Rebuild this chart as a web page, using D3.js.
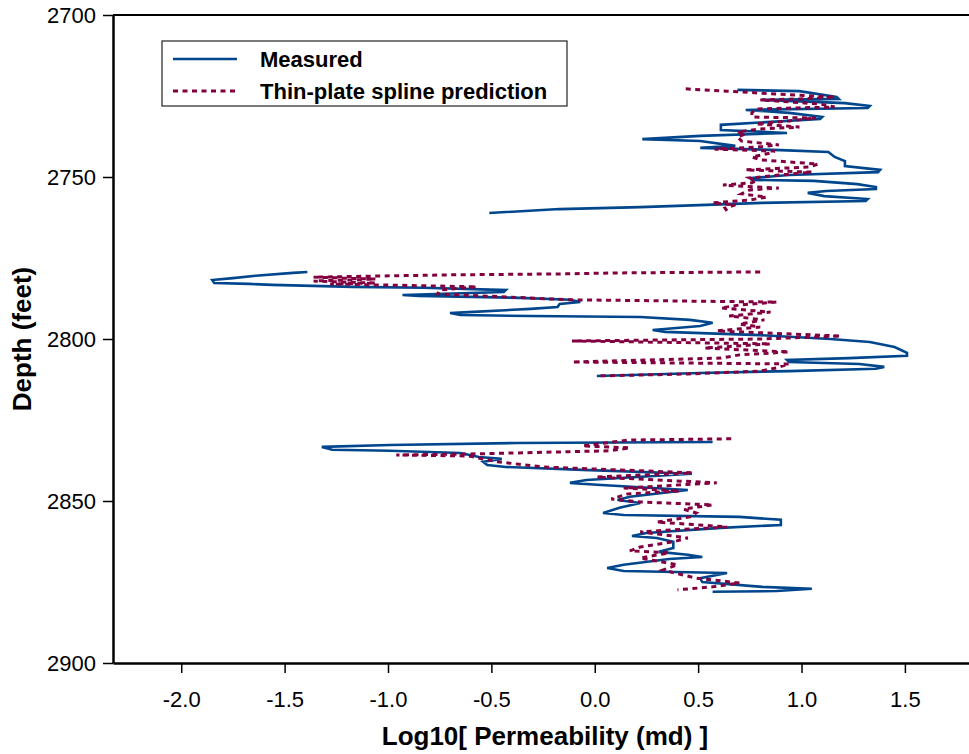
<!DOCTYPE html>
<html>
<head>
<meta charset="utf-8">
<script src="https://cdn.jsdelivr.net/npm/d3@7"></script>
<style>
  html, body { margin: 0; padding: 0; background: #fff; }
  svg { display: block; }
  text { font-family: "Liberation Sans", Arial, sans-serif; }
</style>
</head>
<body>
<svg id="chart" width="969" height="754"></svg>
<script>
// ---------------- data (depth in feet, Log10 permeability in md) ----------------
const xTicks = [-2.0, -1.5, -1.0, -0.5, 0.0, 0.5, 1.0, 1.5];
const xMinorTicks = [-2.25, -1.75, -1.25, -0.75, -0.25, 0.25, 0.75, 1.25, 1.75];
const yTicks = [2700, 2750, 2800, 2850, 2900];
const yMinorTicks = [2725, 2775, 2825, 2875];
const seriesNames = ["Measured", "Thin-plate spline prediction"];

const measuredA = [[2723.1,0.69],[2723.5,0.99],[2725.3,1.17],[2725.9,1.18],[2726.2,0.81],[2727.2,1.21],[2728.1,1.33],[2728.7,1.32],[2729.3,0.73],[2730.2,0.94],[2731.5,1.10],[2732.1,1.09],[2733.9,0.61],[2735.5,0.61],[2736.4,0.93],[2737.3,0.51],[2738.3,0.23],[2738.9,0.51],[2740.4,0.68],[2741.0,0.51],[2741.7,0.90],[2742.3,1.13],[2743.8,1.16],[2745.1,1.21],[2746.6,1.21],[2747.8,1.38],[2748.5,1.37],[2749.4,0.94],[2750.3,0.76],[2750.9,0.76],[2751.2,1.06],[2752.2,1.27],[2753.1,1.36],[2753.7,1.36],[2754.3,1.12],[2754.9,1.03],[2755.9,1.11],[2756.8,1.32],[2757.4,1.31],[2758.0,0.81],[2758.6,0.54],[2759.3,0.22],[2759.9,-0.17],[2761.1,-0.51]];
const measuredB = [[2779.3,-1.39],[2779.6,-1.46],[2780.5,-1.64],[2781.2,-1.75],[2781.8,-1.85],[2782.7,-1.84],[2783.0,-1.67],[2783.3,-1.56],[2783.9,-1.17],[2784.2,-0.83],[2784.9,-0.43],[2785.5,-0.44],[2786.4,-0.93],[2786.7,-0.85],[2787.3,-0.36],[2787.9,-0.12],[2788.6,-0.07],[2789.2,-0.17],[2790.1,-0.18],[2790.7,-0.31],[2791.7,-0.61],[2792.0,-0.70],[2792.6,-0.65],[2792.9,-0.31],[2793.2,0.22],[2794.1,0.46],[2795.0,0.57],[2796.0,0.51],[2797.2,0.28],[2797.8,0.34],[2798.8,0.80],[2800.0,1.14],[2800.9,1.33],[2802.5,1.45],[2804.3,1.51],[2805.2,1.51],[2805.9,1.23],[2806.5,0.93],[2807.1,0.94],[2807.7,1.28],[2808.6,1.40],[2809.2,1.36],[2809.9,0.94],[2810.5,0.51],[2811.4,0.01]];
const measuredC = [[2831.8,0.57],[2832.1,-0.38],[2832.7,-0.99],[2833.3,-1.32],[2834.2,-1.27],[2834.5,-0.99],[2835.2,-0.65],[2836.4,-0.56],[2837.0,-0.45],[2837.9,-0.54],[2838.9,-0.52],[2839.5,-0.43],[2840.4,-0.06],[2841.6,0.47],[2843.5,-0.04],[2844.4,-0.12],[2845.0,0.01],[2846.6,0.45],[2848.7,0.17],[2849.7,0.11],[2850.6,0.22],[2852.1,0.12],[2853.7,0.04],[2854.3,0.14],[2854.9,0.70],[2855.8,0.90],[2857.4,0.90],[2858.3,0.61],[2859.9,0.25],[2860.8,0.18],[2861.4,0.30],[2862.6,0.38],[2864.5,0.38],[2865.7,0.31],[2866.6,0.45],[2867.3,0.52],[2867.9,0.36],[2869.7,0.14],[2870.7,0.06],[2871.6,0.14],[2872.2,0.64],[2873.8,0.51],[2875.0,0.52],[2876.5,0.81],[2877.1,1.05],[2877.8,0.88],[2878.0,0.57]];

const predictedA = [[2722.8,0.44],[2723.5,0.64],[2724.1,0.80],[2725.3,1.16],[2725.9,0.99],[2726.2,0.80],[2727.5,1.09],[2728.4,1.16],[2729.0,0.78],[2730.2,0.76],[2731.5,0.76],[2731.8,1.07],[2732.7,0.94],[2733.6,0.78],[2734.6,0.99],[2735.2,0.80],[2736.1,0.69],[2736.7,0.73],[2737.6,0.69],[2738.9,0.71],[2740.1,0.89],[2740.7,0.80],[2741.4,0.58],[2742.0,0.87],[2742.6,0.85],[2743.8,0.76],[2744.7,0.80],[2746.0,1.08],[2746.9,1.04],[2747.8,0.73],[2748.5,1.05],[2749.4,0.89],[2750.3,0.75],[2751.2,0.78],[2751.8,0.76],[2752.5,0.62],[2753.4,0.89],[2754.0,0.75],[2755.2,0.71],[2756.2,0.83],[2757.1,0.75],[2758.0,0.57],[2758.6,0.68],[2759.6,0.63],[2760.5,0.64]];
const predictedB = [[2779.3,0.80],[2779.6,0.12],[2779.9,-0.16],[2780.2,-0.70],[2780.9,-1.36],[2781.5,-1.06],[2782.1,-1.36],[2782.7,-1.06],[2783.0,-1.28],[2783.9,-0.57],[2784.9,-0.75],[2786.1,-0.76],[2787.9,-0.12],[2788.6,0.88],[2789.5,0.70],[2790.4,0.61],[2791.7,0.85],[2792.9,0.65],[2794.1,0.82],[2795.4,0.70],[2796.3,0.80],[2797.5,0.59],[2799.1,1.19],[2800.0,0.80],[2800.6,-0.11],[2801.5,0.85],[2802.8,0.53],[2804.0,0.94],[2804.9,0.70],[2805.9,0.61],[2807.1,-0.11],[2807.7,0.94],[2808.9,0.88],[2809.9,0.80],[2810.8,0.45],[2811.4,0.01]];
const predictedC = [[2830.8,0.66],[2831.2,0.16],[2833.0,-0.06],[2833.6,0.17],[2834.5,0.07],[2835.5,-0.61],[2835.8,-0.96],[2836.1,-0.61],[2837.9,-0.47],[2839.5,-0.25],[2840.7,0.23],[2841.3,0.47],[2842.6,0.01],[2844.4,0.59],[2846.0,0.14],[2846.9,0.41],[2847.8,0.16],[2849.4,0.08],[2850.3,0.22],[2851.2,0.57],[2852.5,0.43],[2853.7,0.49],[2854.9,0.46],[2856.5,0.30],[2858.0,0.64],[2859.5,0.22],[2861.4,0.45],[2862.6,0.38],[2864.2,0.22],[2865.4,0.17],[2866.0,0.36],[2867.6,0.22],[2869.7,0.40],[2871.3,0.33],[2873.8,0.49],[2875.3,0.70],[2876.5,0.57],[2877.4,0.40]];

const measuredSegments = [measuredA, measuredB, measuredC];
const predictedSegments = [predictedA, predictedB, predictedC];

// ---------------- layout & style ----------------
const blue = "#00468c";
const maroon = "#820040";
const plot = { left: 113, right: 969, top: 15, bottom: 663 };

const svg = d3.select("#chart");

const x = d3.scaleLinear().domain([-2.33, 1.81]).range([plot.left, plot.right]);
const y = d3.scaleLinear().domain([2700, 2900]).range([plot.top, plot.bottom]);

// top frame line
svg.append("line")
  .attr("x1", plot.left).attr("x2", plot.right)
  .attr("y1", plot.top).attr("y2", plot.top)
  .attr("stroke", "#000").attr("stroke-width", 2);

// x axis
const gx = svg.append("g").attr("transform", `translate(0,${plot.bottom})`);
gx.call(d3.axisBottom(x).tickValues(xMinorTicks).tickSize(5).tickSizeOuter(0).tickFormat(""));
gx.call(d3.axisBottom(x).tickValues(xTicks).tickSize(10).tickSizeOuter(0).tickPadding(18)
  .tickFormat(d => d.toFixed(1)));
gx.selectAll(".domain").attr("stroke-width", 2.5);
gx.selectAll(".tick line").attr("stroke-width", 1.5);
gx.selectAll("text").attr("font-size", 22).attr("fill", "#000")
  .style("font-family", '"Liberation Sans", Arial, sans-serif');

// y axis
const gy = svg.append("g").attr("transform", `translate(${plot.left},0)`);
gy.call(d3.axisLeft(y).tickValues(yMinorTicks).tickSize(5).tickSizeOuter(0).tickFormat(""));
gy.call(d3.axisLeft(y).tickValues(yTicks).tickSize(10).tickSizeOuter(0).tickPadding(7)
  .tickFormat(d3.format("d")));
gy.selectAll(".domain").attr("stroke-width", 2.5);
gy.selectAll(".tick line").attr("stroke-width", 1.5);
gy.selectAll("text").attr("font-size", 22).attr("fill", "#000")
  .style("font-family", '"Liberation Sans", Arial, sans-serif');

// axis titles
svg.append("text")
  .attr("x", (plot.left + plot.right) / 2 + 4).attr("y", 745)
  .attr("text-anchor", "middle")
  .attr("font-size", 26).attr("font-weight", "bold")
  .text("Log10[ Permeability (md) ]");

svg.append("text")
  .attr("transform", `translate(31,${(plot.top + plot.bottom) / 2}) rotate(-90)`)
  .attr("text-anchor", "middle")
  .attr("font-size", 26).attr("font-weight", "bold")
  .text("Depth (feet)");

// lines
const line = d3.line().x(d => x(d[1])).y(d => y(d[0]));

svg.append("g").selectAll("path")
  .data(measuredSegments).join("path")
  .attr("d", line)
  .attr("fill", "none").attr("stroke", blue)
  .attr("stroke-width", 2.6).attr("stroke-linejoin", "miter");

svg.append("g").selectAll("path")
  .data(predictedSegments).join("path")
  .attr("d", line)
  .attr("fill", "none").attr("stroke", maroon)
  .attr("stroke-width", 3).attr("stroke-dasharray", "5,4.5");

// legend
const lg = svg.append("g");
lg.append("rect")
  .attr("x", 162).attr("y", 41).attr("width", 405).attr("height", 65)
  .attr("fill", "#fff").attr("stroke", "#222").attr("stroke-width", 1.2);
const legendItems = [
  { name: seriesNames[0], color: blue, dash: null, width: 2.6, y: 59 },
  { name: seriesNames[1], color: maroon, dash: "5,4.5", width: 3, y: 91 }
];
legendItems.forEach(it => {
  lg.append("line")
    .attr("x1", 173).attr("x2", 237).attr("y1", it.y).attr("y2", it.y)
    .attr("stroke", it.color).attr("stroke-width", it.width)
    .attr("stroke-dasharray", it.dash);
  lg.append("text")
    .attr("x", 260).attr("y", it.y + 8)
    .attr("font-size", 22).attr("font-weight", "bold")
    .attr("fill", "#000")
    .text(it.name);
});
</script>
</body>
</html>
